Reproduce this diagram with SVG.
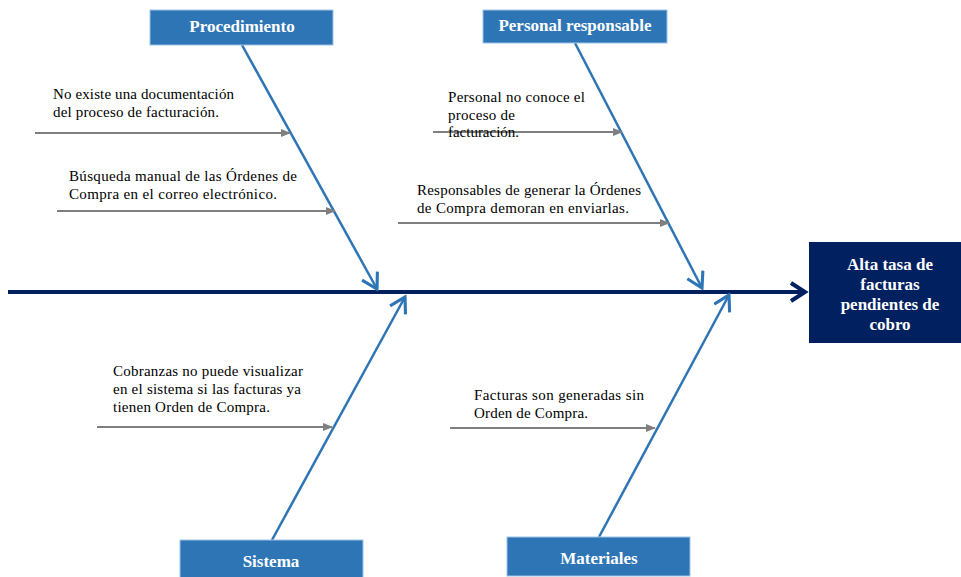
<svg xmlns="http://www.w3.org/2000/svg" width="961" height="577" viewBox="0 0 961 577">
<style>
.cat{fill:#2e75b6;stroke:#9dc3e6;stroke-width:1}
.catt{font-family:'Liberation Serif','Times New Roman',serif;font-weight:bold;font-size:17px;fill:#fff;text-anchor:middle}
.t{font-family:'Liberation Serif','Times New Roman',serif;font-size:15px;fill:#000}
.bone{stroke:#2e75b6;stroke-width:2.5;fill:none}
.sub{stroke:#7f7f7f;stroke-width:2;fill:none}
.eff{font-family:'Liberation Serif','Times New Roman',serif;font-weight:bold;font-size:17px;fill:#fff;text-anchor:middle}
</style>
<defs>
<marker id="vb" markerUnits="userSpaceOnUse" markerWidth="20" markerHeight="20" refX="14" refY="8" orient="auto" viewBox="0 0 16 16">
<path d="M2,1 L14,8 L2,15" fill="none" stroke="#2e75b6" stroke-width="2.5"/>
</marker>
<marker id="tg" markerUnits="userSpaceOnUse" markerWidth="10" markerHeight="10" refX="9" refY="5" orient="auto" viewBox="0 0 10 10">
<path d="M0,1 L10,5 L0,9 Z" fill="#7f7f7f"/>
</marker>
</defs>
<g id="connectors">
<line x1="8" y1="292" x2="804" y2="292" stroke="#002060" stroke-width="4"/>
<path d="M791,283 L805,292 L791,301" fill="none" stroke="#002060" stroke-width="4"/>
<line class="bone" x1="242" y1="45" x2="377" y2="289" marker-end="url(#vb)"/>
<line class="bone" x1="575" y1="43" x2="702" y2="288" marker-end="url(#vb)"/>
<line class="bone" x1="272" y1="540" x2="405" y2="297" marker-end="url(#vb)"/>
<line class="bone" x1="599" y1="537" x2="729" y2="295" marker-end="url(#vb)"/>
<line class="sub" x1="35" y1="133" x2="290" y2="133" marker-end="url(#tg)"/>
<line class="sub" x1="57" y1="211" x2="335" y2="211" marker-end="url(#tg)"/>
<line class="sub" x1="433" y1="132" x2="622" y2="132" marker-end="url(#tg)"/>
<line class="sub" x1="398" y1="223" x2="669" y2="223" marker-end="url(#tg)"/>
<line class="sub" x1="97" y1="427" x2="332" y2="427" marker-end="url(#tg)"/>
<line class="sub" x1="450" y1="428" x2="655" y2="428" marker-end="url(#tg)"/>
</g>
<g id="procedimiento">
<rect class="cat" x="150" y="10" width="183" height="35"/>
<text class="catt" x="242" y="32">Procedimiento</text>
</g>
<g id="personal">
<rect class="cat" x="483" y="10" width="184" height="33"/>
<text class="catt" x="575" y="31">Personal responsable</text>
</g>
<g id="sistema">
<rect class="cat" x="180" y="540" width="183" height="40"/>
<text class="catt" x="271" y="567">Sistema</text>
</g>
<g id="materiales">
<rect class="cat" x="507" y="537" width="183" height="39"/>
<text class="catt" x="599" y="564">Materiales</text>
</g>
<g id="efecto">
<rect x="809" y="242" width="155" height="101" fill="#002060"/>
<text class="eff" x="890" y="270">Alta tasa de</text>
<text class="eff" x="890" y="290">facturas</text>
<text class="eff" x="890" y="310">pendientes de</text>
<text class="eff" x="890" y="330">cobro</text>
</g>
<g id="causa1">
<text class="t" x="53" y="99" textLength="181">No existe una documentación</text>
<text class="t" x="53" y="117" textLength="166">del proceso de facturación.</text>
</g>
<g id="causa2">
<text class="t" x="69" y="181" textLength="228">Búsqueda manual de las Órdenes de</text>
<text class="t" x="69" y="199" textLength="208">Compra en el correo electrónico.</text>
</g>
<g id="causa3">
<text class="t" x="448" y="102" textLength="137">Personal no conoce el</text>
<text class="t" x="448" y="120" textLength="67">proceso de</text>
<text class="t" x="448" y="137" textLength="71">facturación.</text>
</g>
<g id="causa4">
<text class="t" x="417" y="195" textLength="224">Responsables de generar la Órdenes</text>
<text class="t" x="417" y="213" textLength="212">de Compra demoran en enviarlas.</text>
</g>
<g id="causa5">
<text class="t" x="113" y="376" textLength="190">Cobranzas no puede visualizar</text>
<text class="t" x="113" y="394" textLength="188">en el sistema si las facturas ya</text>
<text class="t" x="113" y="412" textLength="157">tienen Orden de Compra.</text>
</g>
<g id="causa6">
<text class="t" x="474" y="400" textLength="170">Facturas son generadas sin</text>
<text class="t" x="474" y="418" textLength="114">Orden de Compra.</text>
</g>
</svg>
